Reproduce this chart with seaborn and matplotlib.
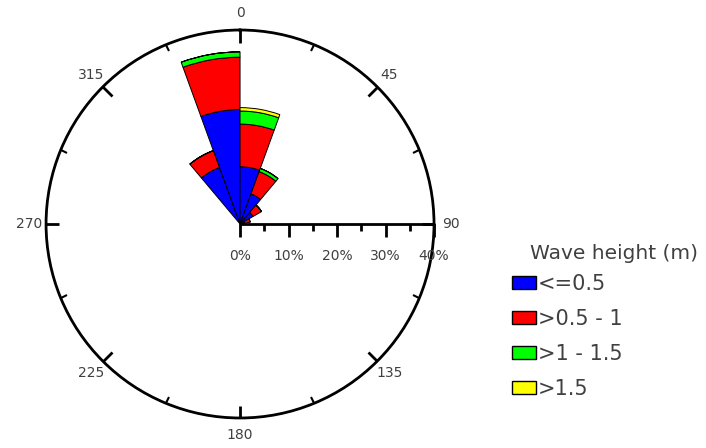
import numpy as np
import matplotlib
matplotlib.use("Agg")
import matplotlib.pyplot as plt
from matplotlib.patches import Patch
import seaborn as sns

# direction bins (centre, degrees) and bin width
directions = [330, 350, 10, 30, 50, 70]
bin_width = 20

# frequency (%) per wave height class
classes = ["<=0.5", ">0.5 - 1", ">1 - 1.5", ">1.5"]
h_le05 = [12.4, 23.6, 11.8, 6.6, 3.1, 0.9]
h_05_1 = [3.7, 10.8, 8.8, 4.9, 2.0, 1.2]
h_1_15 = [0.0, 1.1, 2.7, 0.7, 0.0, 0.0]
h_gt15 = [0.0, 0.0, 0.7, 0.0, 0.0, 0.0]
colors = ["#0000ff", "#ff0000", "#00ff00", "#ffff00"]

dir_labels = [0, 45, 90, 135, 180, 225, 270, 315]
pct_ticks = [0, 10, 20, 30, 40]
pct_minor = [5, 15, 25, 35]

sns.set_style("white")
plt.rcParams["font.family"] = ["DejaVu Sans"]
txt_col = "#404040"

fig = plt.figure(figsize=(7.06, 4.48), dpi=100)
ax = fig.add_axes([0.0652, 0.067, 0.5496, 0.866], projection="polar")
ax.set_theta_zero_location("N")
ax.set_theta_direction(-1)
ax.set_ylim(0, 40)
ax.grid(False)
ax.set_yticks([])
ax.spines["polar"].set_linewidth(2)
ax.spines["polar"].set_color("black")

# stacked sectors
theta = np.deg2rad(directions)
bottom = np.zeros(len(directions))
for vals, c in zip([h_le05, h_05_1, h_1_15, h_gt15], colors):
    vals = np.array(vals)
    ax.bar(theta, vals, width=np.deg2rad(bin_width), bottom=bottom,
           color=c, edgecolor="black", linewidth=0.7, align="center")
    bottom = bottom + vals

# direction ticks (labels drawn by hand, centred just outside the circle)
ax.set_xticks(np.deg2rad(dir_labels))
ax.set_xticklabels([])
ax.set_xticks(np.deg2rad(np.arange(22.5, 360, 45)), minor=True)
ax.tick_params(axis="x", which="both", bottom=False, top=True)
ax.tick_params(axis="x", which="major", direction="in", length=9, width=2,
               color="black")
ax.tick_params(axis="x", which="minor", direction="in", length=5, width=1.5,
               color="black")
for d in dir_labels:
    ax.text(np.deg2rad(d), 43.5, str(d), ha="center", va="center",
            fontsize=10, color=txt_col, clip_on=False)

# radial scale along 90 degrees
ax.plot([np.pi / 2, np.pi / 2], [0, 40], color="black", lw=2, clip_on=False)
ax.plot([np.pi / 2] * len(pct_ticks), pct_ticks, ls="none", marker=3, ms=9,
        mew=2, color="black", clip_on=False)
ax.plot([np.pi / 2] * len(pct_minor), pct_minor, ls="none", marker=3, ms=5,
        mew=2, color="black", clip_on=False)
for r in pct_ticks:
    ax.annotate(f"{r}%", xy=(np.pi / 2, r), xytext=(0, -18),
                textcoords="offset points", ha="center", va="top",
                fontsize=10, color=txt_col, annotation_clip=False)

# legend
fig.text(530 / 706, 1 - 259 / 448, "Wave height (m)", fontsize=14.5,
         color=txt_col, ha="left", va="baseline")
handles = [Patch(facecolor=c, edgecolor="black", linewidth=1) for c in colors]
leg = fig.legend(handles, classes, loc="upper left",
                 bbox_to_anchor=(512 / 706, 1 - 274 / 448), frameon=False,
                 fontsize=15, handlelength=1.15, handleheight=0.63,
                 handletextpad=0.1, labelspacing=0.72, borderpad=0,
                 borderaxespad=0)
for t in leg.get_texts():
    t.set_color(txt_col)

fig.savefig("out.png", dpi=100)
